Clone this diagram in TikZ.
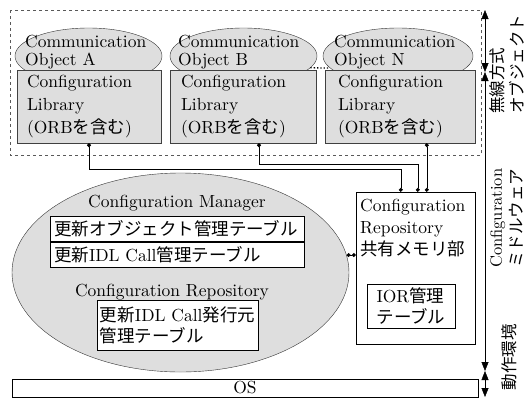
\documentclass[tikz,border=0pt]{standalone}
\usepackage{fontspec}
\setmainfont{lmroman10-regular}[Extension=.otf]
\newfontfamily\jp{Noto Sans CJK JP}
\usetikzlibrary{shapes.geometric,arrows.meta,positioning}
\newcommand{\ja}[1]{{\jp #1}}

\begin{document}
\begin{tikzpicture}[x=1pt, y=-1pt,
	font=\fontsize{17.5}{23}\selectfont,
	every node/.style={inner sep=0pt},
	comobj/.style={ellipse, draw=black!80, fill=black!13, minimum height=56pt},
	comtxt/.style={anchor=north west, align=left, font=\fontsize{17.5}{18}\selectfont},
	libbox/.style={draw=black!75, fill=black!13, minimum height=73pt, text width=124pt, align=left},
	tbl/.style={draw, fill=white, minimum width=254pt, minimum height=25.5pt, text width=246pt, align=left},
	tabbox/.style={draw, fill=white},
	conn/.style={{Circle[length=4pt]}-{Circle[length=4pt]}},
	rangearrow/.style={{Triangle[length=9pt,width=7pt]}-{Triangle[length=9pt,width=7pt]}},
	vlab/.style={rotate=90, align=left, font=\fontsize{16.5}{20.5}\selectfont}]
\useasboundingbox (0,0) rectangle (529,400);

% objects
\draw[dashed, black!65] (10,10) rectangle (481,155);
\node[comobj, minimum width=147pt] (comA) at (88.5,56) {};
\node[comobj, minimum width=147pt] (comB) at (243.5,56) {};
\node[comobj, minimum width=150pt] (comN) at (398,56) {};
\node[libbox, minimum width=144pt] (libA) at (89,106.5) {Configuration\\Library\\(ORB\ja{を含む})};
\node[libbox, minimum width=146pt] (libB) at (243,106.5) {Configuration\\Library\\(ORB\ja{を含む})};
\node[libbox, minimum width=150pt] (libN) at (400,106.5) {Configuration\\Library\\(ORB\ja{を含む})};
\node[comtxt] (txtA) at (25,35) {Communication\\Object A};
\node[comtxt] (txtB) at (178,35) {Communication\\Object B};
\node[comtxt] (txtN) at (334,35) {Communication\\Object N};
\draw[dotted, line width=1.3pt] (comB.-10) -- (comN.190);

% manager
\node[ellipse, draw=black!80, fill=black!13, minimum width=337pt, minimum height=199pt] (mgr) at (180.5,272.5) {};
\node (mgrtxt) at (177,203.5) {Configuration Manager};
\node[tbl] (row1) at (177,228.75) {\ja{更新オブジェクト管理テーブル}};
\node[tbl, below=0pt of row1] (row2) {\ja{更新}IDL Call\ja{管理テーブル}};
\node (reptxt) at (172,292) {Configuration Repository};
\node[tabbox, minimum width=161pt, minimum height=50pt, align=left, font=\fontsize{17.5}{21}\selectfont] (issuer) at (177.5,325) {\ja{更新}IDL Call\ja{発行元}\\\ja{管理テーブル}};

% shared memory
\node[tabbox, minimum width=119pt, minimum height=152pt] (repo) at (415.5,268) {};
\node[anchor=north west, align=left, font=\fontsize{17.5}{22}\selectfont] (repotxt) at (360,199) {Configuration\\Repository\\\ja{共有メモリ部}};
\node[tabbox, minimum width=88pt, minimum height=44pt, align=left, font=\fontsize{17.5}{21}\selectfont] (ior) at (411,306) {IOR\ja{管理}\\\ja{テーブル}};

\node[tabbox, minimum width=466pt, minimum height=18pt] (os) at (245,388) {OS};

\draw[conn] (libA.south) -- ++(0,26) -| ([xshift=45pt]repo.north west);
\draw[conn] ([xshift=16pt]libB.south) -- ++(0,21) -| ([xshift=62pt]repo.north west);
\draw[conn] ([xshift=71pt]repo.north west) coordinate (rN) -- (rN |- libN.south);
\draw[conn] (mgr.6) -- (mgr.6 -| repo.west);

% ranges
\coordinate (s0) at (485,10);
\coordinate (s1) at (485,72);
\coordinate (s2) at (485,371);
\coordinate (s3) at (485,397);
\draw[rangearrow] (s0) -- (s1);
\draw[rangearrow] (s1) -- (s2);
\draw[rangearrow] (s2) -- (s3);
\node[vlab, anchor=north west] (lab1) at (489,114) {\ja{無線方式}\\\ja{オブジェクト}};
\node[vlab, anchor=north west] (lab2) at (490,268) {Configuration\\\ja{ミドルウェア}};
\node[vlab] (lab3) at (509,357) {\ja{動作環境}};
\end{tikzpicture}
\end{document}
